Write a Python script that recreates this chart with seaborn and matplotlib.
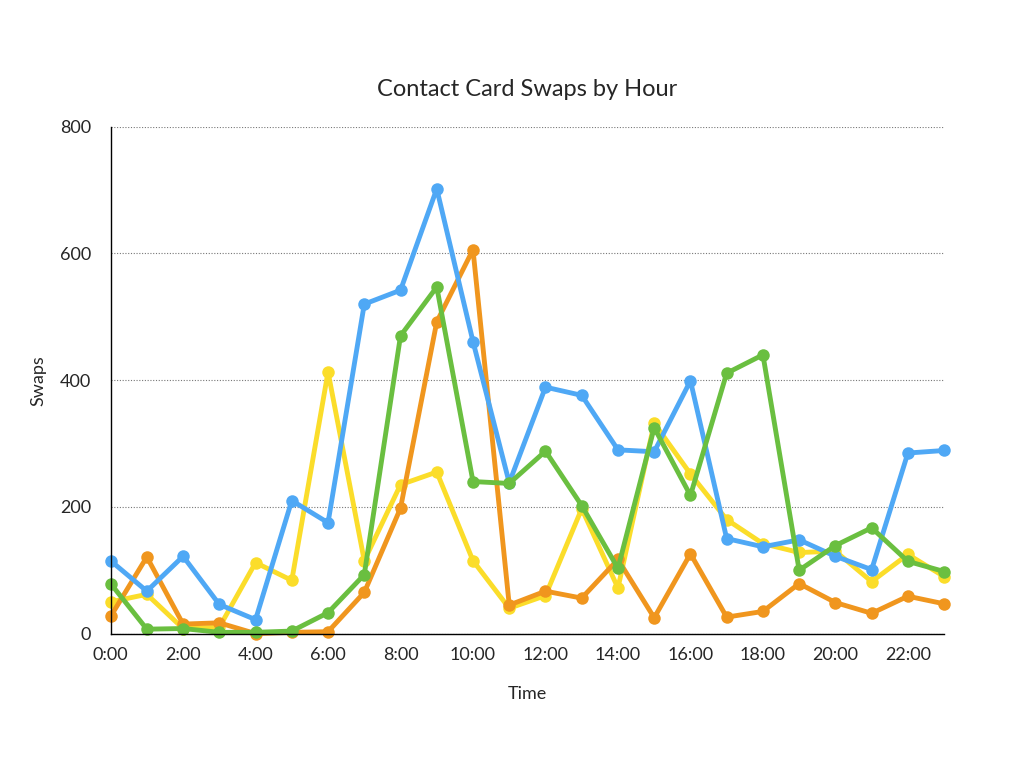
import matplotlib
matplotlib.use("Agg")
import matplotlib.pyplot as plt
import seaborn as sns
import pandas as pd

hours = list(range(24))
blue = [115, 67, 122, 46, 22, 210, 175, 520, 542, 702, 461, 238, 389, 376, 290, 287, 399, 150, 137, 148, 122, 101, 285, 289]
orange = [27, 121, 15, 17, 0, 2, 3, 65, 198, 492, 606, 45, 67, 56, 117, 25, 126, 26, 35, 79, 49, 32, 59, 47]
green = [79, 7, 8, 2, 2, 4, 33, 93, 470, 547, 240, 237, 288, 202, 103, 325, 218, 411, 440, 100, 139, 167, 114, 98]
yellow = [50, 62, 8, 10, 112, 84, 413, 115, 235, 255, 115, 40, 60, 197, 72, 332, 252, 180, 142, 128, 130, 82, 125, 90]
tick_hours = list(range(0, 24, 2))
tick_labels = [f"{h}:00" for h in tick_hours]

sns.set_style("white")
plt.rcParams['font.family'] = ['Lato', 'DejaVu Sans']

fig, ax = plt.subplots(figsize=(10.24, 7.68), dpi=100)
fig.subplots_adjust(left=0.108, right=0.922, top=0.835, bottom=0.175)

series = [("yellow", yellow, "#fbdd2a"), ("orange", orange, "#f0961e"),
          ("blue", blue, "#4fa8f5"), ("green", green, "#6abf40")]
for name, vals, col in series:
    df = pd.DataFrame({"hour": hours, "val": vals})
    sns.lineplot(data=df, x="hour", y="val", ax=ax, color=col, linewidth=3.5,
                 marker="o", markersize=9, markeredgewidth=0)

ax.set_xlim(0, 23)
ax.set_ylim(0, 800)
ax.set_yticks([0, 200, 400, 600, 800])
ax.set_xticks(tick_hours)
ax.set_xticklabels(tick_labels)
ax.tick_params(labelsize=13, length=0)
ax.tick_params(axis="x", pad=10)
ax.tick_params(axis="y", pad=14)
ax.yaxis.grid(True, linestyle=(0, (1, 1.5)), color="#777777", linewidth=0.8)
for s in ["top", "right"]:
    ax.spines[s].set_visible(False)
for s in ["left", "bottom"]:
    ax.spines[s].set_color("black")
    ax.spines[s].set_linewidth(1)
ax.set_xlabel("Time", fontsize=13, labelpad=16)
ax.set_ylabel("Swaps", fontsize=13, labelpad=10)
ax.set_title("Contact Card Swaps by Hour", fontsize=17, pad=22)
for line in ax.lines:
    line.set_clip_on(False)

fig.savefig("out.png", dpi=100)
